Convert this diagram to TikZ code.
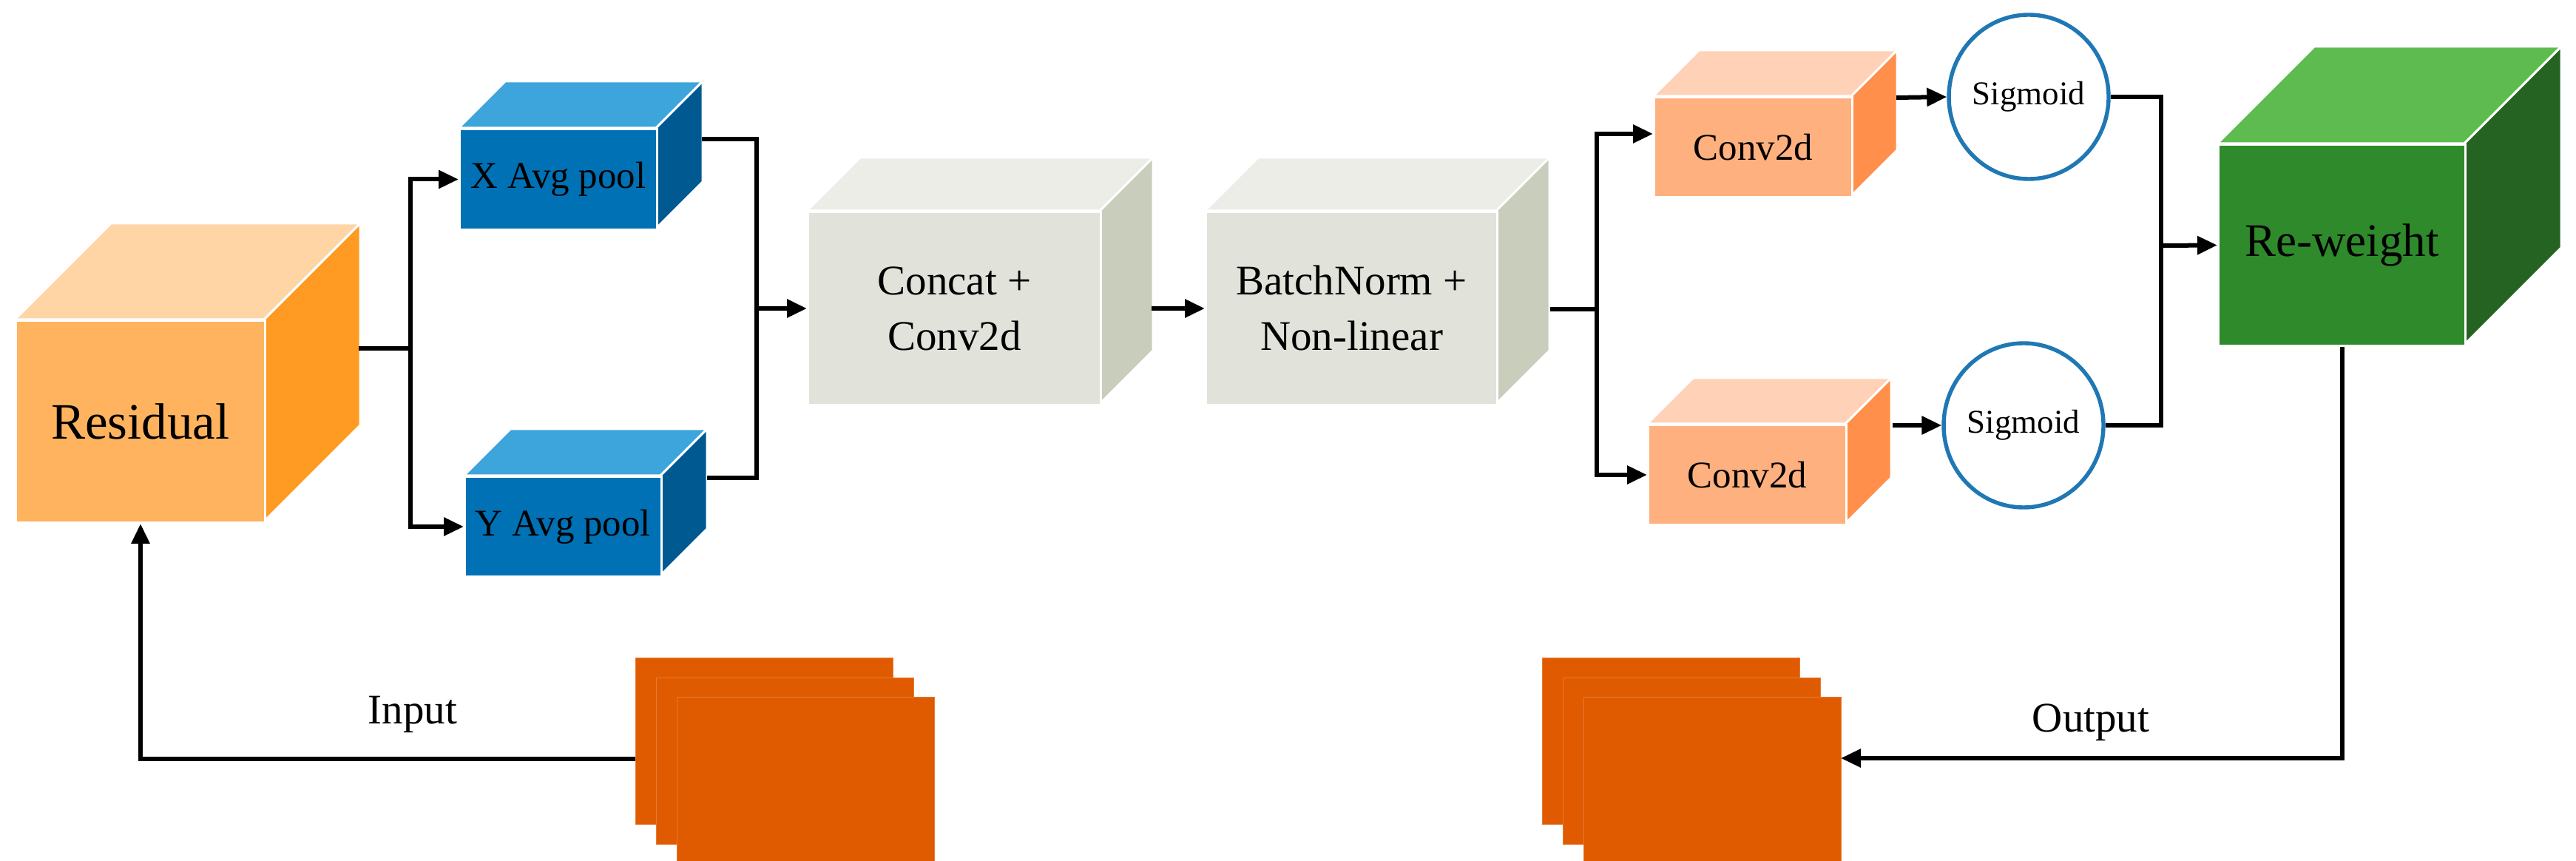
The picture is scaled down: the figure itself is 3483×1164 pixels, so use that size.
\documentclass[tikz,border=0pt]{standalone}
\usepackage{fontspec}
\setmainfont{Liberation Serif}
\usetikzlibrary{arrows.meta,shapes.geometric}
\definecolor{resfront}{HTML}{FFB35E}\definecolor{restop}{HTML}{FFD5A6}\definecolor{resside}{HTML}{FF9B22}
\definecolor{blufront}{HTML}{0071B5}\definecolor{blutop}{HTML}{3DA5DC}\definecolor{bluside}{HTML}{005A91}
\definecolor{grefront}{HTML}{E1E3DA}\definecolor{gretop}{HTML}{ECEDE7}\definecolor{greside}{HTML}{C8CEBB}
\definecolor{cnvfront}{HTML}{FFB07F}\definecolor{cnvtop}{HTML}{FFD2B8}\definecolor{cnvside}{HTML}{FF8F4A}
\definecolor{grnfront}{HTML}{2E8A2B}\definecolor{grntop}{HTML}{5DBB50}\definecolor{grnside}{HTML}{256322}
\definecolor{stk}{HTML}{E05A00}\definecolor{sigb}{HTML}{1F78B4}
\newcommand\mycube[9]{%
\fill[#7top,draw=white,line width=1pt] (#2,#3)--++(#6,-#6)--(#4+#6,#3-#6)--(#4,#3)--cycle;
\fill[#7side,draw=white,line width=1pt] (#4,#3)--(#4+#6,#3-#6)--(#4+#6,#5-#6)--(#4,#5)--cycle;
\node[fill=#7front,draw=white,line width=1pt,minimum width={(#4-#2)*1pt/3},minimum height={(#5-#3)*1pt/3},inner sep=0pt,font=#8,align=center,anchor=north west] (#1) at (#2,#3) {#9};}
\newcommand\mystack[3]{%
\foreach \i/\dx/\dy in {a/0/0,b/28/27,c/56/53}{
\node[stkbox] (#1\i) at (#2+\dx,#3+\dy) {};}}
\tikzset{
 arr/.style={line width=2pt,-{Triangle[length=9pt,width=8pt]}},
 ln/.style={line width=2pt},
 sig/.style={ellipse,draw=sigb,line width=1.8pt,fill=white,minimum width=72pt,minimum height=74pt,inner sep=0pt,font=\fontsize{15}{17}\selectfont},
 stkbox/.style={fill=stk,draw=stk!80!white,line width=0.4pt,anchor=north west,minimum width=116pt,minimum height=75pt,inner sep=0pt},
 lbl/.style={font=\fontsize{19}{22}\selectfont}
}
\begin{document}
\begin{tikzpicture}[x=1pt/3,y=-1pt/3]
\useasboundingbox (0,0) rectangle (3483,1164);
\mycube{res}{20}{432}{357}{705}{130}{res}{\fontsize{23}{26}\selectfont}{Residual}
\mycube{xp}{620}{173}{887}{309}{63}{blu}{\fontsize{17}{20}\selectfont}{X Avg pool}
\mycube{yp}{627}{643}{893}{778}{63}{blu}{\fontsize{17}{20}\selectfont}{Y Avg pool}
\mycube{cc}{1091}{285}{1487}{546}{72}{gre}{\fontsize{19}{25}\selectfont}{Concat +\\Conv2d}
\mycube{bn}{1629}{285}{2023}{546}{72}{gre}{\fontsize{19}{25}\selectfont}{BatchNorm +\\Non-linear}
\mycube{c1}{2235}{130}{2503}{265}{62}{cnv}{\fontsize{17}{20}\selectfont}{Conv2d}
\mycube{c2}{2227}{573}{2495}{708}{62}{cnv}{\fontsize{17}{20}\selectfont}{Conv2d}
\mycube{rw}{2998}{194}{3332}{466}{131}{grn}{\fontsize{21}{24}\selectfont}{Re-weight}
\node[sig] (s1) at (2743,131) {Sigmoid};
\node[sig] (s2) at (2736,575) {Sigmoid};
\mystack{in}{859}{889}
\mystack{out}{2085}{889}
\coordinate (rout) at (485,471);
\coordinate (j1) at (555,471);
\coordinate (xo) at (949,188);
\coordinate (yo) at (956,646);
\coordinate (j2) at (1023,417);
\coordinate (cco) at (1557,417);
\coordinate (bno) at (2096,418);
\coordinate (j3) at (2159,418);
\coordinate (c1o) at (2564,132);
\coordinate (c2o) at (2559,575);
\coordinate (j4) at (2922,332);
\coordinate (oin) at (2489,1025);
\coordinate (iin) at (859,1026);
\draw[ln] (rout) -- (j1);
\draw[arr] (j1) |- (xp.west);
\draw[arr] (j1) |- (yp.west);
\draw[ln] (xo) -| (j2);
\draw[ln] (yo) -| (j2);
\draw[arr] (j2) -- (cc.west);
\draw[arr] (cco) -- (bn.west);
\draw[ln] (bno) -- (j3);
\draw[arr] (j3) |- ([yshift=6pt]c1.west);
\draw[arr] (j3) |- (c2.west);
\draw[arr] (c1o) -- (s1.west);
\draw[arr] (c2o) -- (s2.west);
\draw[ln] (s1.east) -| (j4);
\draw[ln] (s2.east) -| (j4);
\draw[arr] (j4) -- (rw.west);
\draw[arr] (rw.south) |- (oin);
\draw[arr] (iin) -| (res.south);
\node[lbl] (li) at (558,966) {Input};
\node[lbl] (lo) at (2827,977) {Output};
\end{tikzpicture}
\end{document}
